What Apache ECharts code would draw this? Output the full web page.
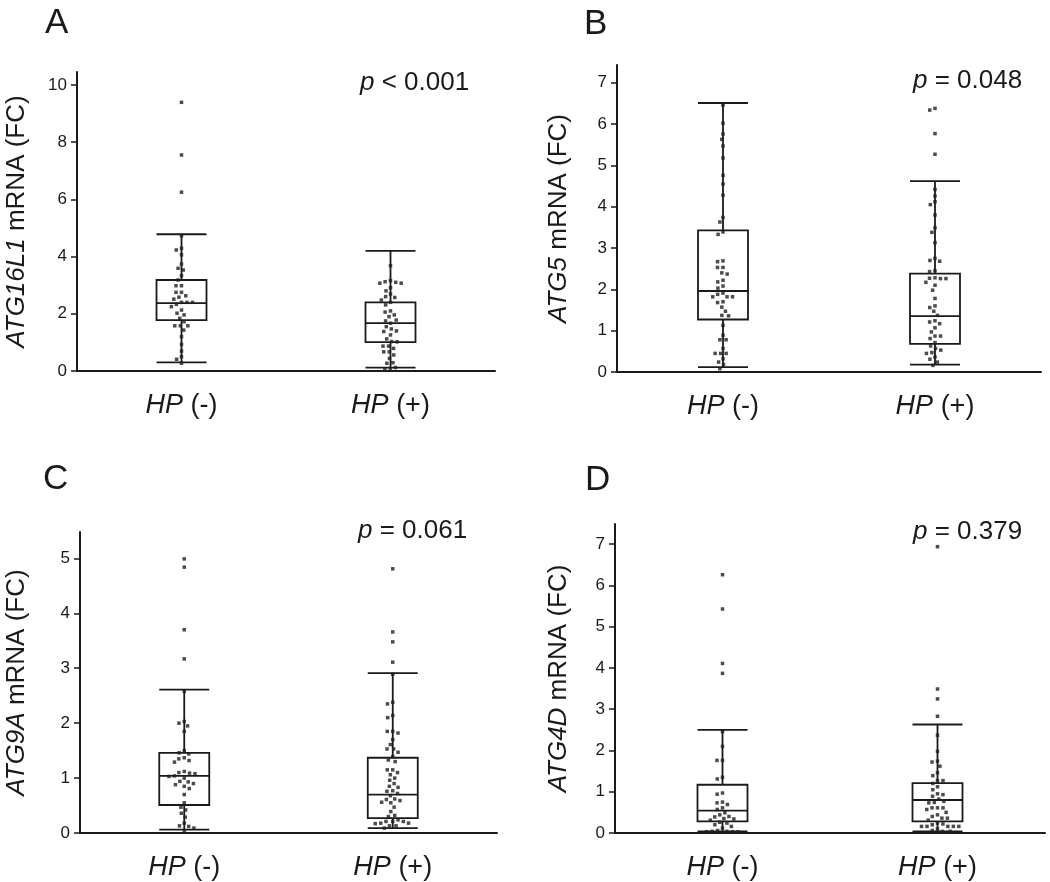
<!DOCTYPE html>
<html>
<head>
<meta charset="utf-8">
<script src="https://cdn.jsdelivr.net/npm/echarts@6/dist/echarts.min.js"></script>
<style>
    html, body { margin: 0; padding: 0; background: #fff; }
    #main { width: 1050px; height: 882px; }
</style>
</head>
<body>
<div id="main"></div>
<script>
var categories = ['HP (-)', 'HP (+)'];

// ATG16L1 (panel A)
var atg16l1Neg = [9.39, 7.55, 6.25, 4.73, 4.29, 4.23, 4.06, 3.74, 3.59, 3.53, 3.33, 3.18, 2.98, 2.98, 2.75, 2.75, 2.63, 2.58, 2.51, 2.40, 2.40, 2.40, 2.33, 2.25, 2.13, 2.02, 1.96, 1.84, 1.72, 1.58, 1.58, 1.58, 1.43, 1.20, 0.93, 0.70, 0.50, 0.41, 0.27];
var atg16l1Pos = [3.68, 3.16, 3.12, 3.10, 3.07, 3.07, 2.91, 2.80, 2.69, 2.60, 2.57, 2.48, 2.40, 2.31, 2.10, 2.06, 1.96, 1.90, 1.78, 1.75, 1.67, 1.55, 1.47, 1.40, 1.38, 1.26, 1.12, 1.03, 1.02, 0.87, 0.87, 0.79, 0.67, 0.67, 0.56, 0.44, 0.29, 0.27, 0.12, 0.05, 0.05];
var atg16l1Box = [[0.30, 1.78, 2.37, 3.18, 4.78], [0.12, 1.01, 1.67, 2.40, 4.20]];
var atg16l1Ticks = [0, 2, 4, 6, 8, 10];

// ATG5 (panel B)
var atg5Neg = [6.46, 6.02, 5.76, 5.63, 5.47, 5.18, 4.76, 4.55, 4.28, 3.74, 3.63, 3.39, 3.33, 2.69, 2.67, 2.53, 2.53, 2.40, 2.37, 2.22, 2.18, 2.08, 2.03, 1.91, 1.88, 1.82, 1.82, 1.82, 1.70, 1.68, 1.57, 1.47, 1.37, 1.36, 1.13, 0.89, 0.78, 0.78, 0.57, 0.45, 0.45, 0.45, 0.32, 0.24, 0.18, 0.08];
var atg5Pos = [6.38, 6.34, 5.77, 5.27, 4.42, 4.26, 4.12, 4.05, 3.80, 3.49, 3.38, 3.13, 2.75, 2.70, 2.68, 2.45, 2.43, 2.28, 2.27, 2.26, 2.26, 2.17, 2.10, 1.98, 1.78, 1.60, 1.56, 1.47, 1.37, 1.24, 1.21, 1.17, 1.07, 0.97, 0.87, 0.87, 0.81, 0.71, 0.63, 0.57, 0.53, 0.47, 0.45, 0.36, 0.31, 0.24, 0.16];
var atg5Box = [[0.12, 1.27, 1.96, 3.43, 6.51], [0.18, 0.68, 1.35, 2.38, 4.62]];
var atg5Ticks = [0, 1, 2, 3, 4, 5, 6, 7];

// ATG9A (panel C)
var atg9aNeg = [4.99, 4.84, 3.70, 3.17, 2.58, 2.03, 2.00, 1.95, 1.85, 1.50, 1.46, 1.44, 1.37, 1.35, 1.32, 1.29, 1.12, 1.10, 1.09, 1.08, 1.04, 1.03, 1.00, 0.94, 0.93, 0.90, 0.88, 0.85, 0.81, 0.70, 0.55, 0.47, 0.42, 0.36, 0.29, 0.18, 0.13, 0.12, 0.09, 0.03];
var atg9aPos = [4.81, 3.66, 3.48, 3.11, 2.89, 2.38, 2.35, 2.14, 2.10, 1.85, 1.85, 1.82, 1.70, 1.61, 1.53, 1.53, 1.47, 1.39, 1.33, 1.30, 1.15, 1.15, 1.10, 1.06, 1.00, 0.96, 0.90, 0.85, 0.83, 0.77, 0.76, 0.72, 0.68, 0.62, 0.61, 0.59, 0.56, 0.55, 0.47, 0.39, 0.32, 0.30, 0.24, 0.21, 0.21, 0.21, 0.18, 0.18, 0.17, 0.13, 0.13, 0.09];
var atg9aBox = [[0.06, 0.51, 1.04, 1.46, 2.61], [0.09, 0.27, 0.70, 1.37, 2.91]];
var atg9aTicks = [0, 1, 2, 3, 4, 5];

// ATG4D (panel D)
var atg4dNeg = [6.26, 5.43, 4.11, 3.87, 2.46, 2.10, 1.76, 1.76, 1.35, 1.31, 0.97, 0.94, 0.75, 0.73, 0.69, 0.61, 0.57, 0.49, 0.44, 0.40, 0.39, 0.35, 0.34, 0.31, 0.26, 0.24, 0.20, 0.16, 0.12, 0.06, 0.04, 0.04, 0.03, 0.03, 0.03];
var atg4dPos = [6.94, 3.49, 3.25, 2.83, 2.37, 1.98, 1.74, 1.72, 1.62, 1.46, 1.39, 1.27, 1.27, 1.20, 1.12, 1.05, 0.95, 0.93, 0.89, 0.82, 0.77, 0.74, 0.73, 0.61, 0.61, 0.61, 0.57, 0.50, 0.44, 0.40, 0.36, 0.36, 0.31, 0.24, 0.22, 0.20, 0.16, 0.16, 0.16, 0.16, 0.16, 0.10, 0.06, 0.04, 0.04];
var atg4dBox = [[0.04, 0.28, 0.54, 1.17, 2.50], [0.04, 0.28, 0.80, 1.21, 2.63]];
var atg4dTicks = [0, 1, 2, 3, 4, 5, 6, 7];

var FONT = '"Liberation Sans", Arial, Helvetica, sans-serif';
var INK = '#1a1a1a';

var panels = [
    {letter: 'A', gene: 'ATG16L1', p: '< 0.001', neg: atg16l1Neg, pos: atg16l1Pos, box: atg16l1Box, ticks: atg16l1Ticks, max: 10.45,
        grid: {left: 77, top: 72, width: 418, height: 299}, nameGap: 47, letterPos: [45, 6], pPos: [360, 70]},
    {letter: 'B', gene: 'ATG5', p: '= 0.048', neg: atg5Neg, pos: atg5Pos, box: atg5Box, ticks: atg5Ticks, max: 7.43,
        grid: {left: 617, top: 65, width: 424, height: 307}, nameGap: 45, letterPos: [584, 7], pPos: [913, 68]},
    {letter: 'C', gene: 'ATG9A', p: '= 0.061', neg: atg9aNeg, pos: atg9aPos, box: atg9aBox, ticks: atg9aTicks, max: 5.48,
        grid: {left: 80, top: 532, width: 417, height: 301}, nameGap: 50, letterPos: [43, 462], pPos: [358, 518]},
    {letter: 'D', gene: 'ATG4D', p: '= 0.379', neg: atg4dNeg, pos: atg4dPos, box: atg4dBox, ticks: atg4dTicks, max: 7.49,
        grid: {left: 615, top: 524, width: 430, height: 309}, nameGap: 43, letterPos: [585, 463], pPos: [913, 519]}
];

function italicRich(size) {
    return {i: {fontStyle: 'italic', fontSize: size, fontFamily: FONT, color: INK}};
}

function toPoints(values, idx) {
    var arr = [];
    for (var i = 0; i < values.length; i++) {
        arr.push([idx, values[i]]);
    }
    return arr;
}

function $each(arr, fn) {
    for (var i = 0; i < arr.length; i++) {
        fn(i, arr[i]);
    }
}

function buildOption() {
    var option = {
        backgroundColor: '#fff',
        animation: false,
        title: [],
        grid: [],
        xAxis: [],
        yAxis: [],
        series: []
    };
    $each(panels, function (k, cfg) {
        var g = cfg.grid;
        option.grid.push({left: g.left, top: g.top, width: g.width, height: g.height, containLabel: false, outerBoundsMode: 'none'});
        option.title.push({
            text: cfg.letter, left: cfg.letterPos[0], top: cfg.letterPos[1], padding: 0,
            textStyle: {fontSize: 35, fontWeight: 'normal', fontFamily: FONT, color: INK}
        });
        option.title.push({
            text: '{i|p} ' + cfg.p, left: cfg.pPos[0], top: cfg.pPos[1], padding: 0,
            textStyle: {fontSize: 26, fontWeight: 'normal', fontFamily: FONT, color: INK, rich: italicRich(26)}
        });
        option.xAxis.push({
            type: 'category',
            gridIndex: k,
            data: categories,
            boundaryGap: true,
            jitter: 46,
            jitterOverlap: false,
            jitterMargin: 2,
            axisLine: {lineStyle: {color: INK, width: 2}},
            axisTick: {show: false},
            splitLine: {show: false},
            axisLabel: {
                margin: 21,
                fontSize: 27,
                fontFamily: FONT,
                color: INK,
                formatter: function (v) {
                    var sp = v.indexOf(' ');
                    return '{i|' + v.substring(0, sp) + '}' + v.substring(sp);
                },
                rich: italicRich(27)
            }
        });
        option.yAxis.push({
            type: 'value',
            gridIndex: k,
            min: 0,
            max: cfg.max,
            name: '{i|' + cfg.gene + '} mRNA (FC)',
            nameLocation: 'middle',
            nameGap: cfg.nameGap,
            nameMoveOverlap: false,
            nameTextStyle: {fontSize: 26, fontFamily: FONT, color: INK, rich: italicRich(26)},
            axisLine: {show: true, lineStyle: {color: INK, width: 2}},
            axisTick: {show: true, length: 6, lineStyle: {color: INK, width: 1.5}, customValues: cfg.ticks},
            axisLabel: {margin: 10, fontSize: 17, fontFamily: FONT, color: INK, customValues: cfg.ticks},
            splitLine: {show: false}
        });
        option.series.push({
            type: 'boxplot',
            xAxisIndex: k,
            yAxisIndex: k,
            boxWidth: [50, 50],
            itemStyle: {color: 'rgba(0,0,0,0)', borderColor: INK, borderWidth: 1.8},
            data: cfg.box
        });
        option.series.push({
            type: 'scatter',
            xAxisIndex: k,
            yAxisIndex: k,
            symbol: 'rect',
            symbolSize: 3.5,
            itemStyle: {color: '#1f1f1f'},
            data: toPoints(cfg.neg, 0).concat(toPoints(cfg.pos, 1))
        });
    });
    return option;
}

var myChart = echarts.init(document.getElementById('main'));
myChart.setOption(buildOption());
</script>
</body>
</html>
